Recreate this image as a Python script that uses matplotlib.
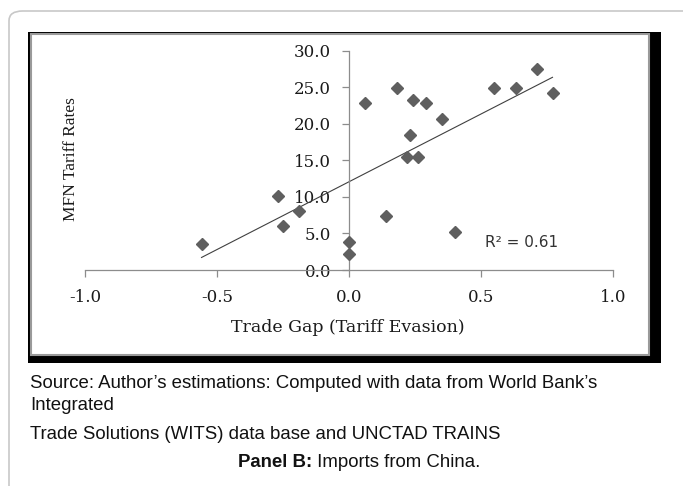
"""Panel B: MFN tariff rates vs trade gap (imports from China)."""
import numpy as np
import matplotlib
matplotlib.use("Agg")
import matplotlib.pyplot as plt
from matplotlib.patches import Rectangle, FancyBboxPatch

# trade gap (tariff evasion) and MFN tariff rates
trade_gap = [-0.56, -0.27, -0.25, -0.19, 0.00, 0.00, 0.06, 0.14, 0.18, 0.23,
             0.22, 0.26, 0.24, 0.29, 0.35, 0.40, 0.55, 0.63, 0.71, 0.77]
mfn_rate = [3.6, 10.1, 6.0, 8.1, 3.8, 2.2, 22.8, 7.4, 24.9, 18.4,
            15.4, 15.4, 23.3, 22.8, 20.6, 5.2, 24.9, 24.9, 27.5, 24.2]
x_ticks = [-1.0, -0.5, 0.0, 0.5, 1.0]
y_ticks = [0, 5, 10, 15, 20, 25, 30]

W, H = 683, 486
fig = plt.figure(figsize=(W / 100, H / 100), dpi=100)


def px(x0, y0, x1, y1):
    # pixel box -> figure fraction (left, bottom, width, height)
    return x0 / W, 1 - y1 / H, (x1 - x0) / W, (y1 - y0) / H


# outer rounded page box, runs off right and bottom edges
l, b, w, h = px(9, 11, 700, 520)
fig.patches.append(FancyBboxPatch((l, b), w, h, boxstyle="round,pad=0,rounding_size=0.02",
                                  transform=fig.transFigure, fc="none", ec="#c8c8c8",
                                  lw=1.2, zorder=-3))
# black chart frame with white inner panel
l, b, w, h = px(28, 32, 661, 363)
fig.patches.append(Rectangle((l, b), w, h, transform=fig.transFigure, fc="black",
                             ec="none", zorder=-2))
l, b, w, h = px(31, 34, 649, 355)
fig.patches.append(Rectangle((l, b), w, h, transform=fig.transFigure, fc="white",
                             ec="#9a9a9a", lw=1.5, zorder=-1))

ax = fig.add_axes(px(85.4, 50.7, 613.2, 270))
ax.set_facecolor("none")
ax.plot(trade_gap, mfn_rate, ls="none", marker="D", ms=6.4, color="#5f5f5f", zorder=3,
        clip_on=False)

# linear trendline over the data range
k, c = np.polyfit(trade_gap, mfn_rate, 1)
xs = np.array([min(trade_gap), max(trade_gap)])
ax.plot(xs, k * xs + c, color="#404040", lw=0.8, zorder=2)
ax.text(0.515, 3.7, "R² = 0.61", fontsize=11, family="DejaVu Sans",
        color="#333", va="center")

ax.set_xlim(-1, 1)
ax.set_ylim(0, 30)
for s in ("top", "right"):
    ax.spines[s].set_visible(False)
ax.spines["left"].set_position(("data", 0))
ax.spines["bottom"].set_position(("data", 0))
for s in ("left", "bottom"):
    ax.spines[s].set_color("#8c8c8c")
    ax.spines[s].set_linewidth(0.9)
ax.set_xticks(x_ticks)
ax.set_yticks(y_ticks)
ax.set_xticklabels([f"{v:.1f}" for v in x_ticks])
ax.set_yticklabels([f"{v:.1f}" for v in y_ticks])
ax.tick_params(axis="both", direction="out", length=5, width=0.9, color="#8c8c8c",
               labelsize=12, labelcolor="#1a1a1a")
ax.tick_params(axis="x", pad=9)
ax.tick_params(axis="y", pad=8)
for t in ax.get_xticklabels() + ax.get_yticklabels():
    t.set_family("DejaVu Serif")

fig.text(71 / W, 1 - 159 / H, "MFN Tariff Rates", rotation=90, ha="center", va="center",
         fontsize=12.5, family="Liberation Serif", color="#1a1a1a")
fig.text(348 / W, 1 - 327 / H, "Trade Gap (Tariff Evasion)", ha="center", va="center",
         fontsize=12.5, family="DejaVu Serif", color="#1a1a1a")

# caption under the chart
cap = dict(fontsize=13.4, family="Liberation Sans", color="#111", va="center")
fig.text(30 / W, 1 - 384 / H, "Source: Author’s estimations: Computed with data from World Bank’s", **cap)
fig.text(30 / W, 1 - 406 / H, "Integrated", **cap)
fig.text(30 / W, 1 - 434 / H, "Trade Solutions (WITS) data base and UNCTAD TRAINS", **cap)
t1 = fig.text(238 / W, 1 - 462 / H, "Panel B:", fontweight="bold", **cap)
ax.annotate(" Imports from China.", xy=(1, 0.5), xycoords=t1, annotation_clip=False, **cap)

fig.savefig("out.png", dpi=100)
